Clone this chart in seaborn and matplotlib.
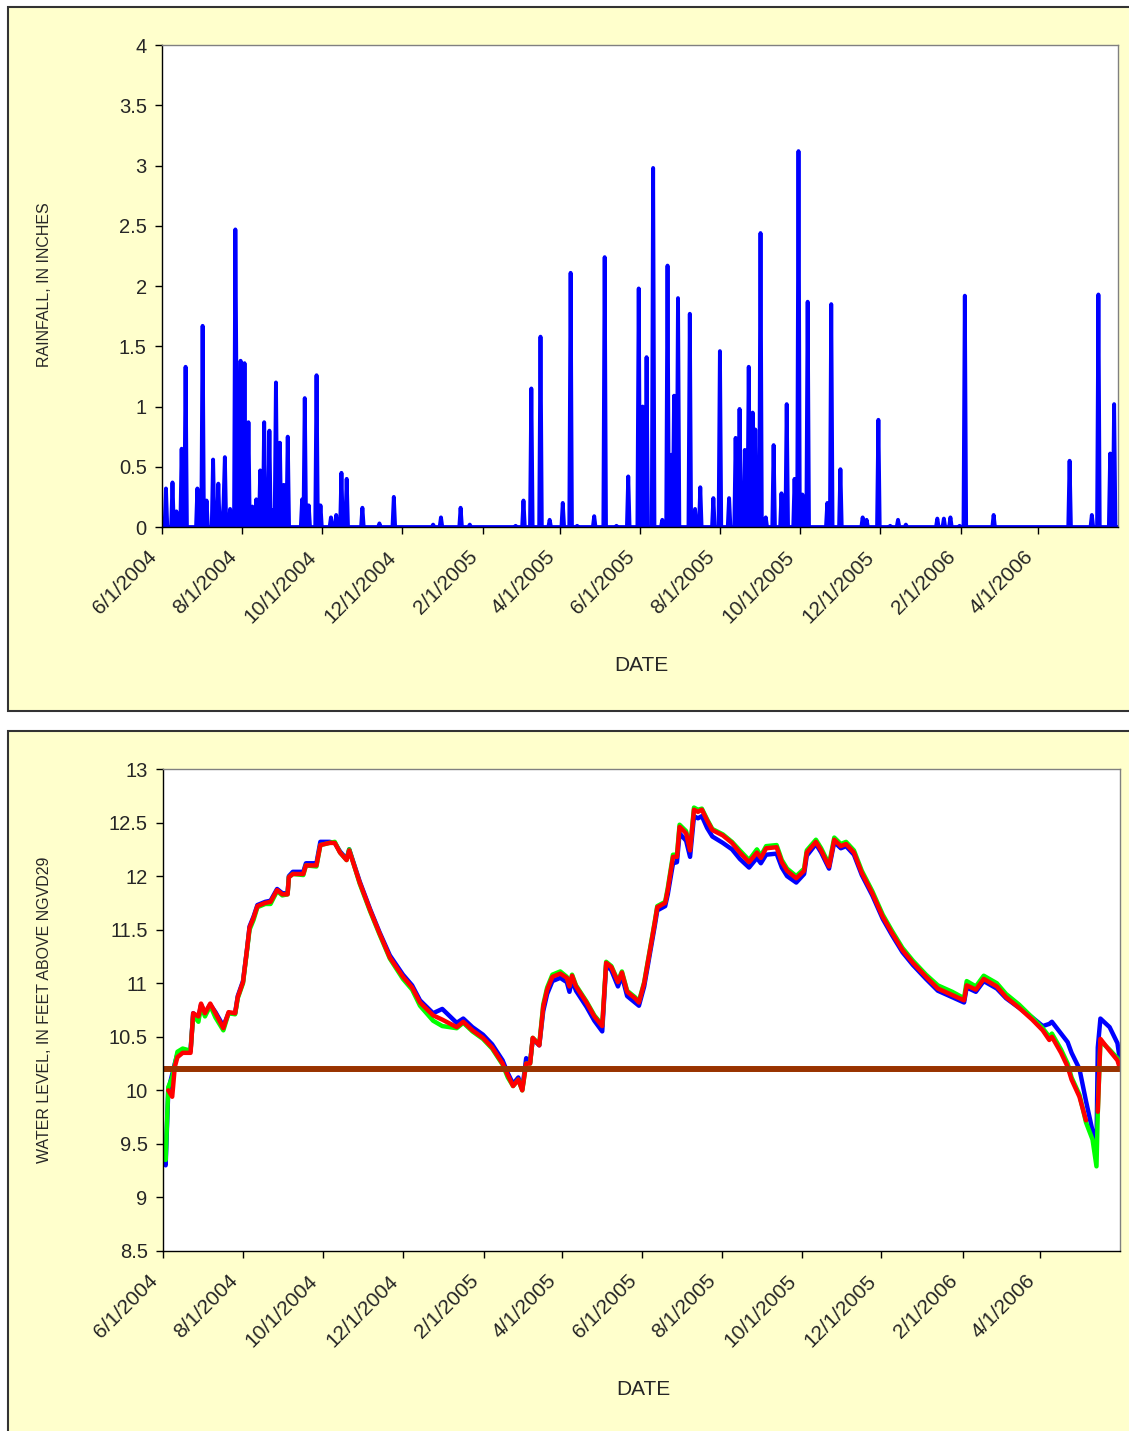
# rainfall and water level charts, 6/1/2004 - 6/1/2006
import numpy as np
import pandas as pd
import matplotlib
matplotlib.use("Agg")
import matplotlib.pyplot as plt
from matplotlib.patches import Rectangle
from matplotlib.ticker import FuncFormatter
from matplotlib.transforms import ScaledTranslation
import seaborn as sns

sns.set_theme(style="white")
plt.rcParams["font.family"] = ["Liberation Sans", "DejaVu Sans"]

start = pd.Timestamp("2004-06-01")
end_day = 730

# x axis tick labels
tick_labels = ["6/1/2004", "8/1/2004", "10/1/2004", "12/1/2004", "2/1/2005",
               "4/1/2005", "6/1/2005", "8/1/2005", "10/1/2005", "12/1/2005",
               "2/1/2006", "4/1/2006"]

# rainfall days (days after 6/1/2004) and inches, zero on other days
rain_day = [3, 8, 11, 15, 18, 27, 31, 34, 39, 43, 47, 48, 52, 56, 57, 60, 63, 66,
            69, 72, 75, 78, 82, 85, 87, 90, 93, 96, 107, 109, 112, 118, 121, 129,
            133, 137, 141, 153, 166, 177, 207, 213, 228, 235, 270, 276, 282, 289,
            296, 306, 312, 317, 330, 338, 347, 356, 364, 367, 370, 375, 382, 386,
            389, 391, 394, 403, 407, 411, 421, 426, 433, 438, 441, 445, 448, 451,
            453, 457, 461, 467, 473, 477, 483, 486, 489, 493, 508, 511, 518, 535,
            538, 547, 556, 562, 568, 592, 597, 602, 609, 613, 635, 693, 710, 715,
            724, 727]
rain_in = [0.32, 0.37, 0.13, 0.65, 1.33, 0.32, 1.67, 0.22, 0.56, 0.36, 0.2, 0.58,
           0.15, 2.47, 0.9, 1.38, 1.36, 0.87, 0.17, 0.23, 0.47, 0.87, 0.8, 0.14,
           1.2, 0.7, 0.35, 0.75, 0.23, 1.07, 0.18, 1.26, 0.18, 0.08, 0.1, 0.45,
           0.4, 0.16, 0.03, 0.25, 0.02, 0.08, 0.16, 0.02, 0.01, 0.22, 1.15, 1.58,
           0.06, 0.2, 2.11, 0.01, 0.09, 2.24, 0.01, 0.42, 1.98, 1.0, 1.41, 2.98,
           0.06, 2.17, 0.6, 1.09, 1.9, 1.77, 0.15, 0.33, 0.24, 1.46, 0.24, 0.74,
           0.98, 0.64, 1.33, 0.95, 0.81, 2.44, 0.08, 0.68, 0.28, 1.02, 0.4, 3.12,
           0.27, 1.87, 0.2, 1.85, 0.48, 0.08, 0.06, 0.89, 0.01, 0.06, 0.02, 0.07,
           0.07, 0.08, 0.01, 1.92, 0.1, 0.55, 0.1, 1.93, 0.61, 1.02]

# water level, feet above NGVD29 (three wells) - days after 6/1/2004
level_day = [0, 2, 4, 7, 9, 11, 15, 21, 23, 27, 29, 32, 36, 40, 46, 50, 55, 57, 61,
             64, 66, 69, 72, 78, 82, 87, 91, 95, 96, 99, 107, 109, 117, 120, 127,
             131, 135, 140, 142, 146, 150, 158, 165, 173, 183, 190, 196, 206, 213,
             224, 229, 236, 244, 251, 259, 263, 267, 271, 274, 277, 280, 282, 287,
             290, 293, 297, 303, 308, 310, 312, 315, 323, 329, 335, 338, 342, 347,
             350, 354, 360, 363, 367, 371, 375, 377, 383, 385, 389, 392, 394, 399,
             402, 405, 408, 411, 415, 419, 427, 434, 440, 447, 453, 456, 460, 468,
             472, 476, 483, 489, 491, 498, 502, 508, 512, 517, 521, 527, 533, 541,
             549, 556, 564, 572, 582, 591, 602, 611, 613, 620, 626, 636, 643, 653,
             663, 671, 676, 678, 685, 690, 693, 699, 704, 709, 712, 713, 715, 722,
             728, 730]
level_blue = [9.36, 9.30, 10.00, 10.15, 10.25, 10.34, 10.37, 10.37, 10.72, 10.67,
              10.80, 10.72, 10.80, 10.73, 10.60, 10.72, 10.72, 10.88, 11.02, 11.31,
              11.53, 11.62, 11.73, 11.76, 11.77, 11.88, 11.84, 11.84, 12.00, 12.04,
              12.04, 12.12, 12.12, 12.32, 12.32, 12.31, 12.23, 12.16, 12.25, 12.10,
              11.95, 11.69, 11.48, 11.26, 11.08, 10.98, 10.84, 10.72, 10.76, 10.63,
              10.67, 10.59, 10.52, 10.43, 10.28, 10.16, 10.06, 10.12, 10.01, 10.30,
              10.26, 10.48, 10.42, 10.74, 10.90, 11.02, 11.05, 11.01, 10.92, 11.03,
              10.93, 10.78, 10.65, 10.55, 11.17, 11.12, 10.97, 11.07, 10.88, 10.82,
              10.79, 10.97, 11.25, 11.53, 11.68, 11.72, 11.83, 12.12, 12.13, 12.40,
              12.33, 12.18, 12.56, 12.54, 12.56, 12.45, 12.37, 12.31, 12.25, 12.16,
              12.08, 12.17, 12.12, 12.20, 12.21, 12.08, 12.00, 11.94, 12.02, 12.19,
              12.30, 12.22, 12.07, 12.32, 12.26, 12.28, 12.20, 12.01, 11.82, 11.60,
              11.45, 11.29, 11.17, 11.04, 10.93, 10.87, 10.82, 10.96, 10.92, 11.02,
              10.95, 10.86, 10.77, 10.68, 10.60, 10.62, 10.64, 10.53, 10.45, 10.35,
              10.20, 9.90, 9.62, 9.47, 10.40, 10.67, 10.59, 10.44, 10.27]
level_green = [9.42, 9.35, 10.03, 10.12, 10.24, 10.36, 10.39, 10.37, 10.70, 10.64,
               10.79, 10.69, 10.79, 10.68, 10.56, 10.72, 10.71, 10.86, 11.00, 11.30,
               11.50, 11.59, 11.71, 11.74, 11.74, 11.86, 11.82, 11.83, 11.99, 12.02,
               12.01, 12.10, 12.09, 12.29, 12.31, 12.32, 12.22, 12.15, 12.25, 12.09,
               11.93, 11.67, 11.46, 11.23, 11.04, 10.94, 10.79, 10.65, 10.60, 10.58,
               10.63, 10.55, 10.48, 10.39, 10.24, 10.12, 10.04, 10.10, 10.00, 10.25,
               10.25, 10.49, 10.43, 10.80, 10.96, 11.08, 11.11, 11.06, 10.98, 11.08,
               10.98, 10.83, 10.70, 10.61, 11.20, 11.16, 11.02, 11.11, 10.93, 10.87,
               10.83, 11.01, 11.29, 11.57, 11.72, 11.76, 11.89, 12.20, 12.20, 12.48,
               12.42, 12.26, 12.64, 12.62, 12.63, 12.53, 12.44, 12.39, 12.32, 12.24,
               12.15, 12.25, 12.19, 12.28, 12.29, 12.15, 12.07, 12.00, 12.07, 12.24,
               12.34, 12.26, 12.11, 12.36, 12.30, 12.32, 12.24, 12.05, 11.86, 11.64,
               11.49, 11.33, 11.21, 11.08, 10.98, 10.92, 10.86, 11.02, 10.97, 11.07,
               11.00, 10.90, 10.80, 10.68, 10.58, 10.50, 10.53, 10.38, 10.25, 10.12,
               9.96, 9.70, 9.54, 9.29, 9.80, 10.46, 10.38, 10.30, 10.22]
level_red = [np.nan, np.nan, 10.00, 9.94, 10.22, 10.31, 10.35, 10.35, 10.72, 10.69,
             10.81, 10.72, 10.81, 10.72, 10.58, 10.73, 10.72, 10.87, 11.01, 11.31,
             11.52, 11.61, 11.72, 11.75, 11.76, 11.87, 11.83, 11.83, 11.99, 12.02,
             12.02, 12.10, 12.10, 12.29, 12.31, 12.31, 12.22, 12.15, 12.24, 12.09,
             11.94, 11.68, 11.47, 11.24, 11.06, 10.96, 10.82, 10.70, 10.66, 10.59,
             10.64, 10.56, 10.49, 10.40, 10.25, 10.14, 10.04, 10.10, 10.00, 10.25,
             10.25, 10.49, 10.42, 10.78, 10.94, 11.06, 11.09, 11.05, 10.97, 11.07,
             10.97, 10.82, 10.69, 10.60, 11.19, 11.15, 11.01, 11.10, 10.92, 10.86,
             10.82, 11.00, 11.28, 11.56, 11.71, 11.75, 11.87, 12.18, 12.18, 12.46,
             12.40, 12.24, 12.62, 12.60, 12.62, 12.52, 12.43, 12.38, 12.31, 12.22,
             12.13, 12.22, 12.17, 12.26, 12.27, 12.13, 12.05, 11.98, 12.05, 12.22,
             12.32, 12.24, 12.09, 12.34, 12.28, 12.30, 12.22, 12.03, 11.84, 11.62,
             11.47, 11.31, 11.19, 11.06, 10.95, 10.89, 10.84, 10.98, 10.94, 11.04,
             10.97, 10.87, 10.77, 10.66, 10.56, 10.47, 10.50, 10.35, 10.22, 10.10,
             9.94, 9.72, np.nan, np.nan, 9.80, 10.48, 10.37, 10.28, 10.20]

# horizontal reference level
ref_day = [0, 732]
ref_level = [10.2, 10.2]

# build data frames
rain = pd.DataFrame({"day": range(0, end_day + 1)})
rain = rain.merge(pd.DataFrame({"day": rain_day, "rain": rain_in}), on="day", how="left")
rain["rain"] = rain["rain"].fillna(0)
rain["date"] = start + pd.to_timedelta(rain["day"], unit="D")

level = pd.DataFrame({"day": level_day, "blue": level_blue,
                      "green": level_green, "red": level_red})
level["date"] = start + pd.to_timedelta(level["day"], unit="D")
level["seg"] = level["red"].isna().cumsum()
red_part = level.dropna(subset=["red"])

ref = pd.DataFrame({"date": start + pd.to_timedelta(ref_day, unit="D"), "level": ref_level})

tick_dates = pd.to_datetime(tick_labels, format="%m/%d/%Y")
x_end = start + pd.Timedelta(days=end_day)

fig = plt.figure(figsize=(11.29, 14.31), dpi=100)

# yellow chart frames
fig.add_artist(Rectangle((0.0071, 0.5031), 1.0, 0.4920, transform=fig.transFigure,
                         facecolor="#FFFFCC", edgecolor="#333333", lw=1.5, zorder=-1))
fig.add_artist(Rectangle((0.0071, -0.02), 1.0, 0.5092, transform=fig.transFigure,
                         facecolor="#FFFFCC", edgecolor="#333333", lw=1.5, zorder=-1))

ax1 = fig.add_axes([0.1435, 0.6317, 0.8468, 0.3368])
ax2 = fig.add_axes([0.1444, 0.1258, 0.8477, 0.3368])


def style_axis(ax):
    ax.set_facecolor("white")
    for side in ["top", "right"]:
        ax.spines[side].set_color("#808080")
        ax.spines[side].set_linewidth(1.0)
    for side in ["left", "bottom"]:
        ax.spines[side].set_color("black")
        ax.spines[side].set_linewidth(1.0)
    ax.tick_params(axis="both", direction="out", length=5, width=1, color="black",
                   labelsize=14.5, pad=6, bottom=True, left=True)
    ax.set_xticks(tick_dates, labels=tick_labels)
    ax.set_xlim(start, x_end)
    ax.yaxis.set_major_formatter(FuncFormatter(lambda v, p: "%g" % v))
    ax.set_xlabel("")
    ax.set_ylabel("")
    ax.grid(False)
    # rotated date labels, shifted down-left of the tick like the original
    shift = ScaledTranslation(-0.15, -0.05, fig.dpi_scale_trans)
    for lab in ax.get_xticklabels():
        lab.set_fontsize(15)
        lab.set_rotation(45)
        lab.set_ha("right")
        lab.set_va("top")
        lab.set_rotation_mode("anchor")
        lab.set_transform(lab.get_transform() + shift)


# top: rainfall
sns.lineplot(data=rain, x="date", y="rain", color="#0000FF", lw=2.8, ax=ax1)
ax1.set_ylim(0, 4)
ax1.set_yticks(np.arange(0, 4.01, 0.5))
style_axis(ax1)

# bottom: water level
sns.lineplot(data=level, x="date", y="blue", color="#0000FF", lw=3.2, ax=ax2)
sns.lineplot(data=level, x="date", y="green", color="#00FF00", lw=3.2, ax=ax2)
sns.lineplot(data=red_part, x="date", y="red", units="seg", estimator=None,
             color="#FF0000", lw=3.2, ax=ax2)
sns.lineplot(data=ref, x="date", y="level", color="#993300", lw=4.3, ax=ax2)
ax2.set_ylim(8.5, 13)
ax2.set_yticks(np.arange(8.5, 13.01, 0.5))
style_axis(ax2)

fig.text(0.039, 0.8008, "RAINFALL, IN INCHES", rotation=90, ha="center",
         va="center", fontsize=11.5)
fig.text(0.5678, 0.5346, "DATE", ha="center", va="center", fontsize=15)
fig.text(0.039, 0.2942, "WATER LEVEL, IN FEET ABOVE NGVD29", rotation=90,
         ha="center", va="center", fontsize=11.5)
fig.text(0.5695, 0.0287, "DATE", ha="center", va="center", fontsize=15)

fig.savefig("out.png", dpi=100)
